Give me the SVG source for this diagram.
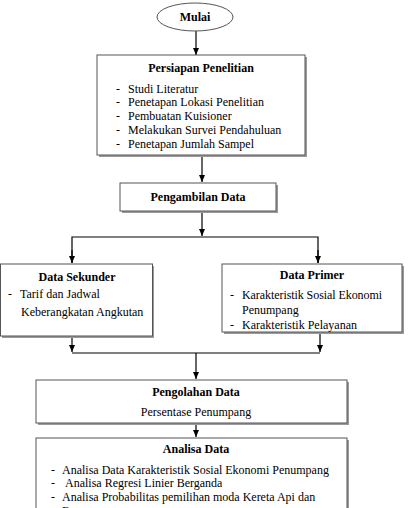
<svg xmlns="http://www.w3.org/2000/svg" width="410" height="508" viewBox="0 0 410 508">
<style>
text{font-family:"Liberation Serif","Times New Roman",serif;font-size:12px;fill:#000}
.t{font-weight:bold}
.box{fill:#fff;stroke:#555;stroke-width:1}
.sh{fill:#9a9a9a}
.c{stroke:#000;stroke-width:1.2;fill:none}
</style>
<defs>
<marker id="ah" markerWidth="8" markerHeight="8" refX="7" refY="4" orient="auto" markerUnits="userSpaceOnUse">
<path d="M0,1 L7,4 L0,7 Z" fill="#000"/>
</marker>
</defs>
<rect width="410" height="508" fill="#fff"/>
<g id="connectors">
<line class="c" x1="196" y1="31" x2="196" y2="55" marker-end="url(#ah)"/>
<line class="c" x1="202" y1="155" x2="202" y2="182" marker-end="url(#ah)"/>
<line class="c" x1="202" y1="211" x2="202" y2="236" marker-end="url(#ah)"/>
<polyline class="c" points="72,263 72,237 318,237 318,263"/>
<line class="c" x1="72" y1="250" x2="72" y2="263" marker-end="url(#ah)"/>
<line class="c" x1="318" y1="250" x2="318" y2="263" marker-end="url(#ah)"/>
<line class="c" x1="72" y1="337" x2="72" y2="352" marker-end="url(#ah)"/>
<line class="c" x1="320" y1="333" x2="320" y2="352" marker-end="url(#ah)"/>
<line class="c" x1="72" y1="353" x2="320" y2="353"/>
<line class="c" x1="196" y1="353" x2="196" y2="379" marker-end="url(#ah)"/>
<line class="c" x1="196" y1="424" x2="196" y2="437" marker-end="url(#ah)"/>
</g>
<g id="mulai">
<ellipse cx="195" cy="17" rx="38" ry="14" fill="#fff" stroke="#555"/>
<text class="t" x="195" y="21" text-anchor="middle">Mulai</text>
</g>
<g id="persiapan">
<rect class="sh" x="99" y="57" width="208" height="100"/>
<rect class="box" x="97" y="55" width="208" height="100"/>
<text class="t" x="201" y="72" text-anchor="middle">Persiapan Penelitian</text>
<text x="116" y="93">-</text><text x="128" y="93">Studi Literatur</text>
<text x="116" y="106">-</text><text x="128" y="106">Penetapan Lokasi Penelitian</text>
<text x="116" y="120">-</text><text x="128" y="120">Pembuatan Kuisioner</text>
<text x="116" y="134">-</text><text x="128" y="134">Melakukan Survei Pendahuluan</text>
<text x="116" y="148">-</text><text x="128" y="148">Penetapan Jumlah Sampel</text>
</g>
<g id="pengambilan">
<rect class="sh" x="122" y="185" width="156" height="28"/>
<rect class="box" x="120" y="183" width="156" height="28"/>
<text class="t" x="198" y="201" text-anchor="middle">Pengambilan Data</text>
</g>
<g id="sekunder">
<rect class="sh" x="2" y="266" width="152" height="72"/>
<rect class="box" x="0.5" y="264" width="152" height="72"/>
<text class="t" x="77" y="281" text-anchor="middle">Data Sekunder</text>
<text x="8" y="298">-</text><text x="20" y="298">Tarif dan Jadwal</text>
<text x="21" y="316">Keberangkatan Angkutan</text>
</g>
<g id="primer">
<rect class="sh" x="224" y="266" width="180" height="68"/>
<rect class="box" x="222" y="264" width="180" height="68"/>
<text class="t" x="312" y="279" text-anchor="middle">Data Primer</text>
<text x="230" y="299">-</text><text x="242" y="299" textLength="140" lengthAdjust="spacing">Karakteristik Sosial Ekonomi</text>
<text x="242" y="314">Penumpang</text>
<text x="230" y="329">-</text><text x="242" y="329">Karakteristik Pelayanan</text>
</g>
<g id="pengolahan">
<rect class="sh" x="38" y="382" width="311" height="43"/>
<rect class="box" x="36" y="380" width="311" height="43"/>
<text class="t" x="196" y="396" text-anchor="middle">Pengolahan Data</text>
<text x="196" y="416" text-anchor="middle">Persentase Penumpang</text>
</g>
<g id="analisa">
<rect class="sh" x="38" y="440" width="311" height="80"/>
<rect class="box" x="36" y="438" width="311" height="80"/>
<text class="t" x="196" y="453" text-anchor="middle">Analisa Data</text>
<text x="51" y="474">-</text><text x="62" y="474">Analisa Data Karakteristik Sosial Ekonomi  Penumpang</text>
<text x="51" y="487">-</text><text x="65" y="487">Analisa Regresi Linier Berganda</text>
<text x="51" y="501">-</text><text x="62" y="501">Analisa Probabilitas pemilihan moda  Kereta Api dan</text>
<text x="51" y="515">-</text><text x="62" y="515">Bus</text>
</g>
</svg>
